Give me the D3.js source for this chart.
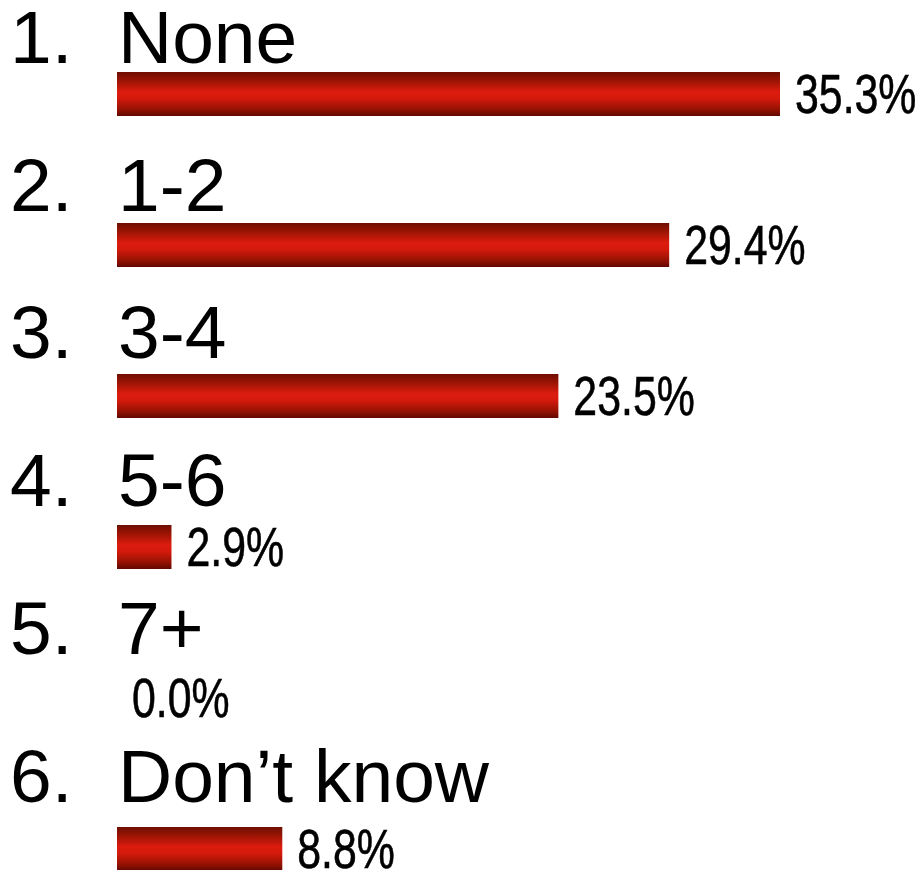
<!DOCTYPE html>
<html>
<head>
<meta charset="utf-8">
<script src="https://cdn.jsdelivr.net/npm/d3@7"></script>
<style>
  html, body { margin: 0; padding: 0; background: #ffffff; }
  svg { display: block; }
</style>
</head>
<body>
<div id="chart"></div>
<script>
// Survey answers and the share of respondents for each
const numbers = ["1.", "2.", "3.", "4.", "5.", "6."];
const categories = ["None", "1-2", "3-4", "5-6", "7+", "Don\u2019t know"];
const percents = [35.3, 29.4, 23.5, 2.9, 0.0, 8.8];

const width = 920, height = 870;
const barX = 117, barH = 44;

const svg = d3.select("#chart").append("svg")
  .attr("width", width)
  .attr("height", height);

// Vertical shading for the bars: dark edges, bright red centre
const grad = svg.append("defs").append("linearGradient")
  .attr("id", "barShade")
  .attr("x1", 0).attr("y1", 0).attr("x2", 0).attr("y2", 1);
[
  [0, "#6e0e00"], [0.2, "#9c1404"], [0.45, "#dc1c0e"],
  [0.6, "#d41a0c"], [0.85, "#941202"], [1, "#620800"]
].forEach(([o, c]) => grad.append("stop").attr("offset", o).attr("stop-color", c));

const idx = d3.range(categories.length);

// Horizontal value scale (percent -> pixels)
const x = d3.scaleLinear().domain([0, 35.3]).range([0, 663]);

// Row positions: label baselines and bar tops
const yLabel = d3.scaleLinear().domain([0, 5]).range([63, 801.7]);
const yBar = d3.scaleLinear().domain([0, 5]).range([72, 827]);

const rows = svg.selectAll("g.row").data(idx).join("g").attr("class", "row");

rows.append("text")
  .attr("x", 10)
  .attr("y", i => yLabel(i))
  .style("font-family", "'Liberation Sans', Arial, sans-serif")
  .style("font-size", "75px")
  .attr("fill", "#000")
  .text(i => numbers[i]);

rows.append("text")
  .attr("x", 118)
  .attr("y", i => yLabel(i))
  .style("font-family", "'Liberation Sans', Arial, sans-serif")
  .style("font-size", "75px")
  .attr("fill", "#000")
  .text(i => categories[i]);

rows.filter(i => percents[i] > 0).append("rect")
  .attr("x", barX)
  .attr("y", i => yBar(i))
  .attr("width", i => x(percents[i]))
  .attr("height", barH)
  .attr("fill", "url(#barShade)");

// Value labels in a condensed face (horizontally compressed sans)
rows.append("text")
  .attr("transform", i => `translate(${barX + x(percents[i]) + 15},${yBar(i) + 41}) scale(0.765,1)`)
  .style("font-family", "'Liberation Sans', Arial, sans-serif")
  .style("font-size", "56px")
  .attr("fill", "#000")
  .attr("stroke", "#000")
  .attr("stroke-width", 0.6)
  .text(i => percents[i].toFixed(1) + "%");
</script>
</body>
</html>
